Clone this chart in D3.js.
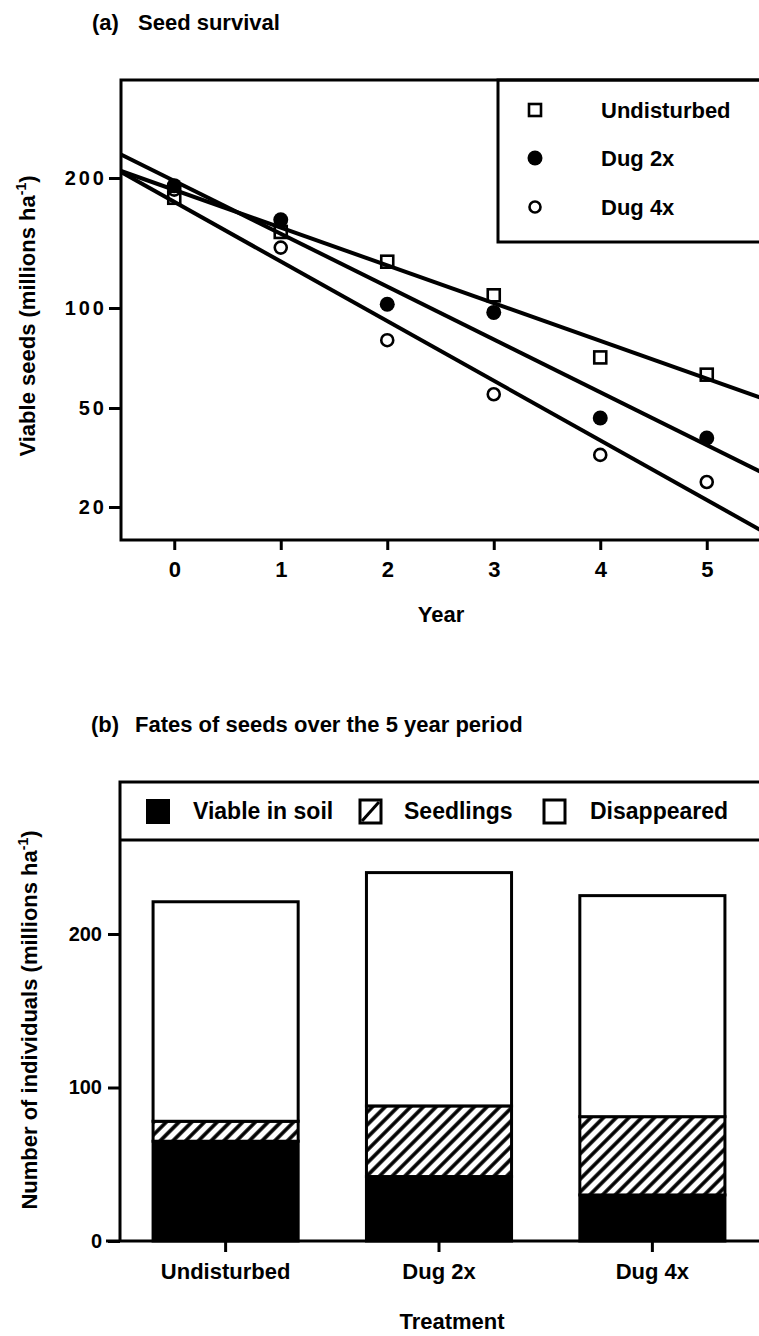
<html>
<script src="https://d3js.org/d3.v7.min.js"></script>
<style>
  body { margin: 0; background: #fff; }
  text { font-family: "Liberation Sans", Arial, sans-serif; font-weight: bold; fill: #000; }
</style>
<body>
<svg width="759" height="1336"></svg>
<script>
// ---- data, panel (a): seed survival ----
var years = [0, 1, 2, 3, 4, 5];
var undisturbed = [180, 150, 128, 107, 71, 63];
var dug2x = [192, 160, 102, 97, 45.6, 37.9];
var dug4x = [188, 138, 80, 55, 32.4, 25.2];
var seriesNames = ["Undisturbed", "Dug 2x", "Dug 4x"];
// fitted lines: value at year -0.5 and at year 5.5
var fitStart = [207.6, 226.7, 206.5];
var fitEnd = [53.8, 27.8, 16.2];
var yTicksA = [20, 50, 100, 200];

// ---- data, panel (b): fates of seeds ----
var treatments = ["Undisturbed", "Dug 2x", "Dug 4x"];
var viable = [65, 42, 30];
var seedlings = [13, 46, 51];
var disappeared = [143, 152, 144];
var fateNames = ["Viable in soil", "Seedlings", "Disappeared"];
var yTicksB = [0, 100, 200];

var svg = d3.select("svg");

var defs = svg.append("defs");
var hatch = defs.append("pattern")
  .attr("id", "hatch")
  .attr("patternUnits", "userSpaceOnUse")
  .attr("width", 9).attr("height", 9)
  .attr("patternTransform", "rotate(45)");
hatch.append("rect").attr("width", 9).attr("height", 9).attr("fill", "#fff");
hatch.append("line").attr("x1", 2).attr("y1", 0).attr("x2", 2).attr("y2", 9)
  .attr("stroke", "#000").attr("stroke-width", 3.6);

// ================= panel (a) =================
var x = d3.scaleLinear().domain([-0.5, 5.5]).range([121, 760]);
// the printed axis is not an even log axis, so the tick values are mapped piecewise
var y = d3.scaleLog().domain(yTicksA).range([507, 408, 308, 178]);
var topA = 80, bottomA = 540;

svg.append("text").attr("x", 92).attr("y", 30).style("font-size", "22px").text("(a)");
svg.append("text").attr("x", 138).attr("y", 30).style("font-size", "22px").text("Seed survival");

var gA = svg.append("g");

// regression lines
var line = d3.line().x(function(d) { return x(d[0]); }).y(function(d) { return y(d[1]); });
seriesNames.forEach(function(n, i) {
  gA.append("path")
    .attr("d", line([[-0.5, fitStart[i]], [5.5, fitEnd[i]]]))
    .attr("fill", "none").attr("stroke", "#000").attr("stroke-width", 4);
});

// points
gA.selectAll("circle.d4").data(years).enter().append("circle")
  .attr("cx", function(d) { return x(d); })
  .attr("cy", function(d, i) { return y(dug4x[i]); })
  .attr("r", 6).attr("fill", "#fff").attr("stroke", "#000").attr("stroke-width", 2.6);
gA.selectAll("rect.un").data(years).enter().append("rect")
  .attr("x", function(d) { return x(d) - 6; })
  .attr("y", function(d, i) { return y(undisturbed[i]) - 6; })
  .attr("width", 12).attr("height", 12)
  .attr("fill", "none").attr("stroke", "#000").attr("stroke-width", 2.6);
gA.selectAll("circle.d2").data(years).enter().append("circle")
  .attr("cx", function(d) { return x(d); })
  .attr("cy", function(d, i) { return y(dug2x[i]); })
  .attr("r", 7.5).attr("fill", "#000");

// legend box
var lg = gA.append("g");
lg.append("rect").attr("x", 498).attr("y", topA).attr("width", 270).attr("height", 162)
  .attr("fill", "#fff").attr("stroke", "#000").attr("stroke-width", 3);
var legY = [110, 158, 207];
lg.append("rect").attr("x", 529).attr("y", legY[0] - 6).attr("width", 12).attr("height", 12)
  .attr("fill", "none").attr("stroke", "#000").attr("stroke-width", 2.6);
lg.append("circle").attr("cx", 535).attr("cy", legY[1]).attr("r", 7.5).attr("fill", "#000");
lg.append("circle").attr("cx", 535).attr("cy", legY[2]).attr("r", 5.5)
  .attr("fill", "#fff").attr("stroke", "#000").attr("stroke-width", 2.6);
seriesNames.forEach(function(n, i) {
  lg.append("text").attr("x", 601).attr("y", legY[i] + 8).style("font-size", "22px").text(n);
});

// frame
gA.append("path")
  .attr("d", "M762," + topA + "H" + x(-0.5) + "V" + bottomA + "H762")
  .attr("fill", "none").attr("stroke", "#000").attr("stroke-width", 3);

// axes
var yAxisA = gA.append("g").attr("transform", "translate(" + x(-0.5) + ",0)")
  .call(d3.axisLeft(y).tickValues(yTicksA).tickFormat(d3.format("d"))
    .tickSize(12).tickSizeOuter(0).tickPadding(5));
yAxisA.select(".domain").remove();
yAxisA.selectAll("line").attr("stroke", "#000").attr("stroke-width", 3);
yAxisA.selectAll("text").attr("x", -14).style("font-size", "20px").style("letter-spacing", "3px")
  .style("font-family", "'Liberation Sans', Arial, sans-serif");

var xAxisA = gA.append("g").attr("transform", "translate(0," + bottomA + ")")
  .call(d3.axisBottom(x).tickValues(years).tickFormat(d3.format("d"))
    .tickSize(10).tickSizeOuter(0).tickPadding(11));
xAxisA.select(".domain").remove();
xAxisA.selectAll("line").attr("stroke", "#000").attr("stroke-width", 3);
xAxisA.selectAll("text").style("font-size", "22px")
  .style("font-family", "'Liberation Sans', Arial, sans-serif");

svg.append("text").attr("x", 441).attr("y", 622).attr("text-anchor", "middle")
  .style("font-size", "22px").text("Year");

var ttlA = svg.append("text").attr("transform", "translate(35,316) rotate(-90)")
  .attr("text-anchor", "middle").style("font-size", "22px");
ttlA.append("tspan").text("Viable seeds (millions ha");
ttlA.append("tspan").attr("dy", -9).style("font-size", "14px").text("-1");
ttlA.append("tspan").attr("dy", 9).text(")");

// ================= panel (b) =================
var topB = 782, legBottom = 840, bottomB = 1241;
var xb = d3.scaleBand().domain(treatments).range([120, 758]).paddingInner(0.32).paddingOuter(0.155);
var yb = d3.scaleLinear().domain([0, 300]).range([bottomB, 780.5]);

svg.append("text").attr("x", 91).attr("y", 732).style("font-size", "22px").text("(b)");
svg.append("text").attr("x", 135).attr("y", 732).style("font-size", "22px")
  .text("Fates of seeds over the 5 year period");

var gB = svg.append("g");

var table = treatments.map(function(t, i) {
  return { treatment: t, viable: viable[i], seedlings: seedlings[i], disappeared: disappeared[i] };
});
var stack = d3.stack().keys(["viable", "seedlings", "disappeared"])(table);
var fills = ["#000", "url(#hatch)", "#fff"];

gB.selectAll("g.layer").data(stack).enter().append("g")
  .attr("fill", function(d, i) { return fills[i]; })
  .selectAll("rect").data(function(d) { return d; }).enter().append("rect")
  .attr("x", function(d) { return xb(d.data.treatment); })
  .attr("y", function(d) { return yb(d[1]); })
  .attr("width", xb.bandwidth())
  .attr("height", function(d) { return yb(d[0]) - yb(d[1]); })
  .attr("stroke", "#000").attr("stroke-width", 3);

// legend strip
gB.append("path")
  .attr("d", "M762," + topB + "H120V" + bottomB + "M120," + legBottom + "H762")
  .attr("fill", "none").attr("stroke", "#000").attr("stroke-width", 3);
var legX = [146, 359, 543], legTx = [193, 404, 590], legC = 811;
gB.append("rect").attr("x", legX[0]).attr("y", legC - 12).attr("width", 24).attr("height", 25).attr("fill", "#000");
gB.append("rect").attr("x", legX[1] + 1).attr("y", legC - 11).attr("width", 21).attr("height", 23)
  .attr("fill", "#fff").attr("stroke", "#000").attr("stroke-width", 3);
gB.append("line").attr("x1", legX[1] + 3).attr("y1", legC + 10).attr("x2", legX[1] + 20).attr("y2", legC - 9)
  .attr("stroke", "#000").attr("stroke-width", 3);
gB.append("rect").attr("x", legX[2] + 1).attr("y", legC - 11).attr("width", 21).attr("height", 23)
  .attr("fill", "#fff").attr("stroke", "#000").attr("stroke-width", 3);
fateNames.forEach(function(n, i) {
  gB.append("text").attr("x", legTx[i]).attr("y", legC + 8).style("font-size", "23px").text(n);
});

var yAxisB = gB.append("g").attr("transform", "translate(120,0)")
  .call(d3.axisLeft(yb).tickValues(yTicksB).tickFormat(d3.format("d"))
    .tickSize(12).tickSizeOuter(0).tickPadding(6));
yAxisB.select(".domain").remove();
yAxisB.selectAll("line").attr("stroke", "#000").attr("stroke-width", 3);
yAxisB.selectAll("text").style("font-size", "20px")
  .style("font-family", "'Liberation Sans', Arial, sans-serif");

var xAxisB = gB.append("g").attr("transform", "translate(0," + bottomB + ")")
  .call(d3.axisBottom(xb).tickSize(11).tickSizeOuter(0).tickPadding(11));
xAxisB.select(".domain").remove();
xAxisB.selectAll("line").attr("stroke", "#000").attr("stroke-width", 3);
xAxisB.selectAll("text").style("font-size", "22px")
  .style("font-family", "'Liberation Sans', Arial, sans-serif");
gB.append("line").attr("x1", 106).attr("x2", 762).attr("y1", bottomB).attr("y2", bottomB)
  .attr("stroke", "#000").attr("stroke-width", 3);

svg.append("text").attr("x", 452).attr("y", 1329).attr("text-anchor", "middle")
  .style("font-size", "22px").text("Treatment");

var ttlB = svg.append("text").attr("transform", "translate(37,1020) rotate(-90)")
  .attr("text-anchor", "middle").style("font-size", "22px");
ttlB.append("tspan").text("Number of individuals (millions ha");
ttlB.append("tspan").attr("dy", -9).style("font-size", "14px").text("-1");
ttlB.append("tspan").attr("dy", 9).text(")");
</script>
</body>
</html>
